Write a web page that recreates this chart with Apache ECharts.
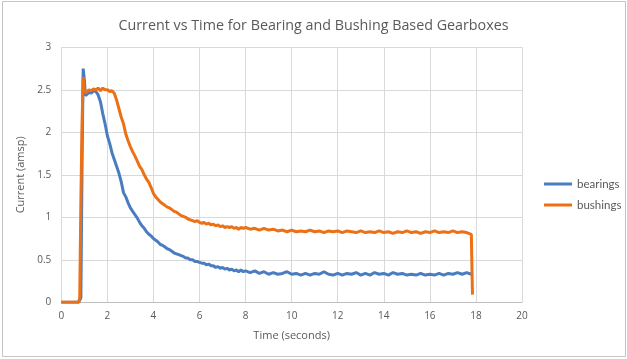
<!DOCTYPE html>
<html>
<head>
<meta charset="utf-8">
<script src="https://cdn.jsdelivr.net/npm/echarts@6/dist/echarts.min.js"></script>
<style>
html,body{margin:0;padding:0;background:#fff;}
#chart{width:627px;height:359px;}
</style>
</head>
<body>
<div id="chart"></div>
<script>
var time = [0, 0.2, 0.4, 0.6, 0.75, 0.8, 0.85, 0.9, 0.95, 1.0, 1.05, 1.1,
  1.2, 1.3, 1.4, 1.5, 1.6, 1.7, 1.8, 1.9, 2.0,
  2.1, 2.2, 2.3, 2.4, 2.5, 2.6, 2.7, 2.8, 2.9, 3.0,
  3.1, 3.2, 3.3, 3.4, 3.5, 3.6, 3.7, 3.8, 3.9, 4.0,
  4.1, 4.2, 4.3, 4.4, 4.5, 4.6, 4.7, 4.8, 4.9, 5.0,
  5.1, 5.2, 5.3, 5.4, 5.5, 5.6, 5.7, 5.8, 5.9, 6.0,
  6.1, 6.2, 6.3, 6.4, 6.5, 6.6, 6.7, 6.8, 6.9, 7.0,
  7.1, 7.2, 7.3, 7.4, 7.5, 7.6, 7.7, 7.8, 7.9, 8.0,
  8.2, 8.4, 8.6, 8.8, 9.0,
  9.2, 9.4, 9.6, 9.8, 10.0,
  10.2, 10.4, 10.6, 10.8, 11.0,
  11.2, 11.4, 11.6, 11.8, 12.0,
  12.2, 12.4, 12.6, 12.8, 13.0,
  13.2, 13.4, 13.6, 13.8, 14.0,
  14.2, 14.4, 14.6, 14.8, 15.0,
  15.2, 15.4, 15.6, 15.8, 16.0,
  16.2, 16.4, 16.6, 16.8, 17.0,
  17.2, 17.4, 17.6, 17.8, 17.85];

var bearings = [0, 0, 0, 0, 0, 0, 0.05, 1.6, 2.75, 2.62, 2.43, 2.44,
  2.47, 2.46, 2.49, 2.48, 2.44, 2.36, 2.22, 2.10, 1.96,
  1.87, 1.76, 1.68, 1.60, 1.52, 1.42, 1.29, 1.24, 1.17, 1.11,
  1.07, 1.03, 0.99, 0.94, 0.90, 0.87, 0.83, 0.80, 0.78, 0.75,
  0.73, 0.71, 0.68, 0.67, 0.65, 0.63, 0.62, 0.60, 0.58, 0.57,
  0.56, 0.55, 0.54, 0.52, 0.52, 0.50, 0.50, 0.48, 0.48, 0.47,
  0.46, 0.46, 0.44, 0.45, 0.43, 0.43, 0.41, 0.42, 0.40, 0.41,
  0.39, 0.40, 0.38, 0.39, 0.37, 0.38, 0.36, 0.38, 0.36, 0.37,
  0.35, 0.37, 0.34, 0.36, 0.33,
  0.35, 0.33, 0.34, 0.36, 0.33,
  0.34, 0.32, 0.34, 0.32, 0.34,
  0.33, 0.36, 0.33, 0.32, 0.34,
  0.32, 0.34, 0.33, 0.35, 0.32,
  0.34, 0.32, 0.35, 0.33, 0.34,
  0.32, 0.35, 0.33, 0.34, 0.32,
  0.33, 0.32, 0.34, 0.32, 0.33,
  0.32, 0.34, 0.32, 0.34, 0.33,
  0.35, 0.33, 0.35, 0.33, null];

var bushings = [0, 0, 0, 0, 0, 0.05, 1.2, 2.1, 2.65, 2.48, 2.50, 2.47,
  2.50, 2.49, 2.51, 2.50, 2.52, 2.49, 2.52, 2.50, 2.50,
  2.48, 2.49, 2.46, 2.38, 2.28, 2.18, 2.10, 1.98, 1.90, 1.83,
  1.77, 1.72, 1.66, 1.60, 1.56, 1.50, 1.45, 1.41, 1.35, 1.28,
  1.24, 1.21, 1.18, 1.16, 1.14, 1.12, 1.11, 1.09, 1.07, 1.06,
  1.04, 1.02, 1.01, 1.00, 0.98, 0.97, 0.96, 0.95, 0.96, 0.94,
  0.93, 0.94, 0.92, 0.93, 0.91, 0.92, 0.90, 0.91, 0.89, 0.90,
  0.88, 0.89, 0.88, 0.89, 0.87, 0.88, 0.86, 0.88, 0.87, 0.88,
  0.86, 0.87, 0.85, 0.87, 0.85,
  0.86, 0.84, 0.85, 0.83, 0.85,
  0.83, 0.84, 0.83, 0.85, 0.83,
  0.84, 0.82, 0.84, 0.83, 0.84,
  0.82, 0.84, 0.83, 0.82, 0.84,
  0.82, 0.83, 0.82, 0.84, 0.82,
  0.83, 0.81, 0.83, 0.82, 0.84,
  0.82, 0.83, 0.81, 0.83, 0.82,
  0.84, 0.82, 0.83, 0.82, 0.84,
  0.82, 0.83, 0.82, 0.80, 0.09];

var seriesNames = ['bearings', 'bushings'];
var titleText = 'Current vs Time for Bearing and Bushing Based Gearboxes';
var xName = 'Time (seconds)';
var yName = 'Current (amsp)';

function pairs(ys) {
  var out = [];
  for (var i = 0; i < time.length; i++) {
    if (ys[i] !== null) out.push([time[i], ys[i]]);
  }
  return out;
}

var FONT = 'Open Sans';
var chart = echarts.init(document.getElementById('chart'));
chart.setOption({
  animation: false,
  backgroundColor: '#ffffff',
  title: {
    text: titleText,
    left: 'center',
    top: 14,
    textStyle: { fontFamily: FONT, fontSize: 14.3, fontWeight: 'normal', color: '#595959' }
  },
  graphic: [{
    type: 'rect',
    shape: { x: 2.5, y: 1.5, width: 623, height: 355 },
    style: { fill: 'none', stroke: '#c4c4c4', lineWidth: 1 },
    silent: true
  }],
  legend: {
    orient: 'vertical',
    left: 539,
    top: 173,
    padding: 5,
    itemWidth: 28,
    itemHeight: 3,
    itemGap: 9,
    icon: 'rect',
    data: seriesNames,
    textStyle: { fontFamily: 'Lato', fontSize: 11.5, color: '#595959' }
  },
  grid: { left: 61.3, right: 105, top: 47.3, bottom: 56.7, containLabel: false },
  xAxis: {
    type: 'value',
    min: 0, max: 20, interval: 2,
    name: xName,
    nameLocation: 'middle',
    nameGap: 28,
    nameTextStyle: { fontFamily: FONT, fontSize: 11, color: '#595959' },
    axisLine: { show: true, lineStyle: { color: '#bfbfbf', width: 1 } },
    axisTick: { show: false },
    axisLabel: { fontFamily: FONT, fontSize: 10, color: '#595959', margin: 9 },
    splitLine: { show: true, lineStyle: { color: '#d9d9d9', width: 1 } }
  },
  yAxis: {
    type: 'value',
    min: 0, max: 3, interval: 0.5,
    name: yName,
    nameLocation: 'middle',
    nameGap: 25,
    nameTextStyle: { fontFamily: FONT, fontSize: 11, color: '#595959' },
    axisLine: { show: false },
    axisTick: { show: false },
    axisLabel: { fontFamily: FONT, fontSize: 10, color: '#595959', margin: 10 },
    splitLine: { show: true, lineStyle: { color: '#d9d9d9', width: 1 } }
  },
  series: [
    {
      name: seriesNames[0], type: 'line', data: pairs(bearings),
      showSymbol: false, symbol: 'none',
      lineStyle: { color: '#4a7dc0', width: 3 }, itemStyle: { color: '#4a7dc0' }
    },
    {
      name: seriesNames[1], type: 'line', data: pairs(bushings),
      showSymbol: false, symbol: 'none',
      lineStyle: { color: '#eb7016', width: 3 }, itemStyle: { color: '#eb7016' }
    }
  ]
});
</script>
</body>
</html>
